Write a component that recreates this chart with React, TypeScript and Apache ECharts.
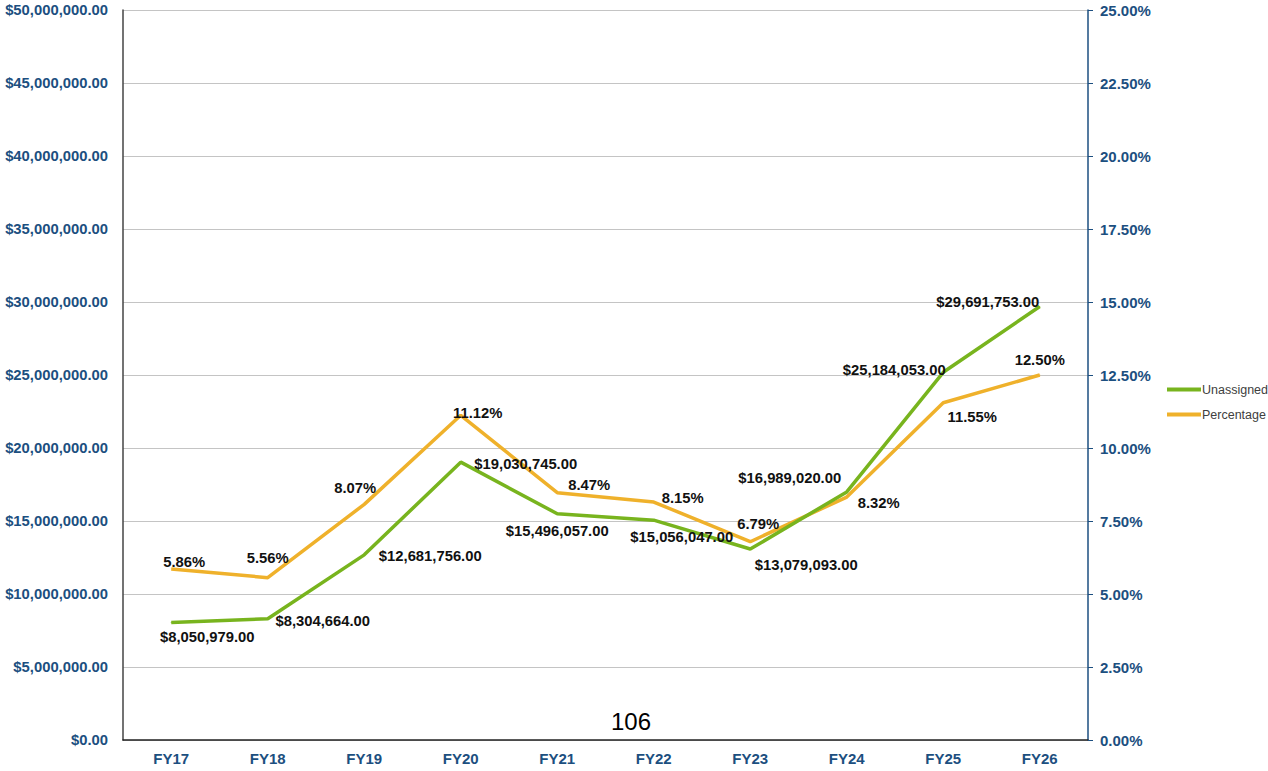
import React, { useEffect, useRef } from "react";
import * as echarts from "echarts";

const categories = ["FY17", "FY18", "FY19", "FY20", "FY21", "FY22", "FY23", "FY24", "FY25", "FY26"];
const unassigned = [8050979, 8304664, 12681756, 19030745, 15496057, 15056047, 13079093, 16989020, 25184053, 29691753];
const percentage = [5.86, 5.56, 8.07, 11.12, 8.47, 8.15, 6.79, 8.32, 11.55, 12.5];

const unassignedLabelOffsets = [[36, 15], [55, 2], [66, 1], [65, 2], [0, 17], [28, 17], [56, 16], [-57, -14], [-49, -2], [-52, -5]];
const percentageLabelOffsets = [[13, -7], [0, -20], [-9, -16], [17, -2], [32, -8], [29, -4], [8, -18], [32, 6], [29, 14], [0, -15]];

const money = (v: number) =>
  "$" + v.toLocaleString("en-US", { minimumFractionDigits: 2, maximumFractionDigits: 2 });

const FONT = "'Liberation Sans', Arial, sans-serif";
const AXIS_BLUE = "#1c4f80";

export default function App() {
  const ref = useRef<HTMLDivElement>(null);
  useEffect(() => {
    if (!ref.current) return;
    const chart = echarts.init(ref.current, null, { renderer: "svg" });
    const labelStyle = {
      show: true,
      position: "inside",
      fontFamily: FONT,
      fontSize: 14.8,
      fontWeight: "bold",
      color: "#111",
    };
    chart.setOption({
      animation: false,
      textStyle: { fontFamily: FONT },
      grid: { left: 123, right: 180, top: 10, bottom: 31, containLabel: false },
      legend: {
        orient: "vertical",
        left: 1162,
        top: 378,
        itemWidth: 34,
        itemHeight: 4,
        itemGap: 12,
        icon: "rect",
        textStyle: { fontSize: 12.5, color: "#404040", fontFamily: FONT, padding: [0, 0, 0, -4] },
        data: ["Unassigned", "Percentage"],
      },
      xAxis: {
        type: "category",
        data: categories,
        boundaryGap: true,
        axisLine: { lineStyle: { color: "#222", width: 1.5 } },
        axisTick: { show: false },
        axisLabel: { color: AXIS_BLUE, fontWeight: "bold", fontSize: 15, margin: 11, fontFamily: FONT },
      },
      yAxis: [
        {
          type: "value",
          min: 0,
          max: 50000000,
          interval: 5000000,
          axisLine: { show: true, lineStyle: { color: "#444", width: 1.5 } },
          axisTick: { show: false },
          splitLine: { lineStyle: { color: "#c4c4c4", width: 1 } },
          axisLabel: {
            color: AXIS_BLUE,
            fontWeight: "bold",
            fontSize: 14.8,
            margin: 15,
            fontFamily: FONT,
            formatter: (v: number) => money(v),
          },
        },
        {
          type: "value",
          min: 0,
          max: 25,
          interval: 2.5,
          position: "right",
          axisLine: { show: true, lineStyle: { color: AXIS_BLUE, width: 1.5 } },
          axisTick: { show: true, length: 5, inside: false, lineStyle: { color: AXIS_BLUE } },
          splitLine: { show: false },
          axisLabel: {
            color: AXIS_BLUE,
            fontWeight: "bold",
            fontSize: 15,
            margin: 12,
            fontFamily: FONT,
            formatter: (v: number) => v.toFixed(2) + "%",
          },
        },
      ],
      series: [
        {
          name: "Unassigned",
          type: "line",
          yAxisIndex: 0,
          symbol: "circle",
          symbolSize: 1,
          showSymbol: true,
          lineStyle: { color: "#78b41e", width: 3.5 },
          itemStyle: { color: "#78b41e" },
          z: 3,
          data: unassigned.map((v, i) => ({
            value: v,
            label: { ...labelStyle, offset: unassignedLabelOffsets[i], formatter: () => money(v) },
          })),
        },
        {
          name: "Percentage",
          type: "line",
          yAxisIndex: 1,
          symbol: "circle",
          symbolSize: 1,
          showSymbol: true,
          lineStyle: { color: "#efb12b", width: 3.5 },
          itemStyle: { color: "#efb12b" },
          z: 2,
          data: percentage.map((v, i) => ({
            value: v,
            label: { ...labelStyle, offset: percentageLabelOffsets[i], formatter: () => v.toFixed(2) + "%" },
          })),
        },
      ],
      graphic: [
        {
          type: "text",
          left: 611,
          top: 709,
          style: { text: "106", fontSize: 24, fill: "#000", fontFamily: FONT },
        },
      ],
    });
    return () => chart.dispose();
  }, []);
  return <div ref={ref} style={{ width: 1268, height: 771, position: "absolute", left: 0, top: 0 }} />;
}
